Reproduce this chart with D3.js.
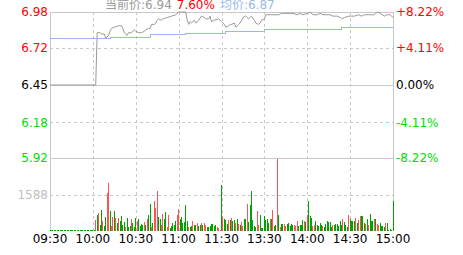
<!DOCTYPE html>
<html>
<head>
<meta charset="utf-8">
<script src="https://cdn.jsdelivr.net/npm/d3@7"></script>
<style>
  body { margin: 0; background: #fff; }
  text { font-family: "DejaVu Sans", "Noto Sans CJK SC", sans-serif; font-size: 12px; }
</style>
</head>
<body>
<svg id="chart" width="463" height="255"></svg>
<script>
// intraday chart data, minute index 0..240 (09:30 -> 15:00, lunch skipped)
const timeTicks = [0, 30, 60, 90, 120, 150, 180, 210, 240]
const timeLabels = ["09:30", "10:00", "10:30", "11:00", "11:30", "13:30", "14:00", "14:30", "15:00"]

const prevClose = 6.45
const priceTicks = [6.98, 6.72, 6.45, 6.18, 5.92]
const priceLabels = ["6.98", "6.72", "6.45", "6.18", "5.92"]
const pctLabels = ["+8.22%", "+4.11%", "0.00%", "-4.11%", "-8.22%"]
const volTick = 1588
const volMax = 3176

const headPrice = "6.94"
const headPct = "7.60%"
const headAvg = "6.87"

const priceMinutes = [0, 32, 33, 34, 35, 36, 38, 39, 41, 42, 43, 45, 48, 50, 51, 52, 54, 55, 57, 59,
  60, 62, 63, 64, 66, 67, 69, 70, 71, 73, 74, 75, 76, 78, 79, 82, 85, 88, 90, 95,
  96, 97, 98, 99, 101, 102, 104, 106, 108, 109, 111, 112, 113, 115, 118, 119, 120, 122, 123, 125,
  126, 127, 129, 130, 132, 133, 134, 136, 137, 139, 140, 141, 143, 144, 146, 147, 148, 150, 151, 154,
  157, 160, 162, 165, 168, 170, 173, 175, 177, 180, 182, 184, 187, 189, 191, 194, 196, 198, 201, 203,
  204, 206, 209, 211, 213, 216, 218, 220, 223, 225, 227, 229, 231, 234, 236, 238, 240]
const prices = [6.45, 6.45, 6.83, 6.83, 6.83, 6.82, 6.82, 6.79, 6.81, 6.84, 6.86, 6.87, 6.88, 6.88, 6.86, 6.83, 6.81, 6.83, 6.83, 6.85,
  6.84, 6.83, 6.83, 6.83, 6.84, 6.85, 6.86, 6.86, 6.89, 6.89, 6.90, 6.92, 6.93, 6.92, 6.93, 6.94, 6.95, 6.96, 6.98, 6.98,
  6.92, 6.89, 6.91, 6.90, 6.92, 6.90, 6.92, 6.95, 6.94, 6.93, 6.93, 6.95, 6.91, 6.92, 6.93, 6.92, 6.91, 6.89, 6.87, 6.88,
  6.89, 6.89, 6.90, 6.87, 6.89, 6.90, 6.92, 6.95, 6.95, 6.93, 6.94, 6.95, 6.92, 6.90, 6.89, 6.90, 6.92, 6.93, 6.96, 6.96,
  6.96, 6.96, 6.97, 6.97, 6.97, 6.97, 6.96, 6.97, 6.96, 6.97, 6.98, 6.96, 6.96, 6.97, 6.96, 6.96, 6.96, 6.95, 6.95, 6.94,
  6.93, 6.94, 6.95, 6.95, 6.95, 6.96, 6.95, 6.96, 6.96, 6.96, 6.96, 6.98, 6.97, 6.95, 6.96, 6.96, 6.94]

const avgMinutes = [0, 42, 70, 95, 123, 150, 169, 204, 240]
const avgPrices = [6.79, 6.80, 6.82, 6.83, 6.84, 6.855, 6.86, 6.87, 6.87]

const volumes = [
  0, 0, 0, 0, 0, 0, 0, 0, 0, 0,
  0, 0, 0, 0, 0, 0, 0, 0, 0, 0,
  0, 0, 0, 0, 0, 0, 0, 0, 0, 0,
  0, 0, 480, 695, 785, 260, 915, 435, 220, 610,
  1655, 2090, 870, 220, 610, 870, 565, 350, 565, 435,
  650, 260, 390, 175, 565, 175, 220, 520, 350, 175,
  565, 435, 520, 220, 305, 260, 390, 260, 520, 695,
  1175, 175, 350, 1305, 1000, 1740, 610, 520, 260, 740,
  520, 825, 175, 695, 130, 220, 350, 260, 435, 695,
  955, 520, 610, 350, 390, 1130, 435, 175, 175, 220,
  435, 260, 260, 350, 220, 260, 350, 260, 350, 260,
  175, 175, 220, 305, 305, 220, 260, 175, 130, 45,
  2000, 610, 520, 480, 305, 480, 480, 565, 435, 480,
  350, 520, 305, 260, 390, 220, 520, 520, 1175, 390,
  1130, 1740, 480, 220, 175, 870, 260, 695, 130, 130,
  650, 480, 520, 350, 520, 520, 915, 220, 260, 3150,
  695, 175, 305, 305, 305, 220, 305, 350, 220, 305,
  260, 260, 220, 435, 220, 260, 260, 480, 435, 390,
  695, 1305, 650, 565, 220, 260, 435, 260, 220, 350,
  260, 220, 175, 305, 435, 390, 390, 175, 260, 260,
  305, 305, 220, 435, 260, 520, 390, 260, 175, 695,
  520, 435, 435, 435, 565, 350, 480, 650, 650, 650,
  350, 305, 520, 260, 740, 435, 435, 520, 520, 305,
  260, 350, 220, 220, 175, 350, 350, 45, 85, 0, 1305]
// r = up minute, g = down minute
const volDirs =
  "gggggggggg" + "gggggggggg" + "gggggggggg" + "ggrgrggrgg" +
  "rrgrrgrgrg" + "gggrgggrgg" + "grggggrgrg" + "grgrrrggrr" +
  "ggrrgggggr" + "rggggggrgg" + "rggrggrgrr" + "gggggggrrr" +
  "grgggrgrgg" + "rgrgrrggrg" + "gggggrrggg" + "ggggrgrggr" +
  "grggrrgggg" + "grrrggggrg" + "rgggrrgggg" + "grggggggrg" +
  "gggggrgggr" + "ggggrgrrgg" + "grgrgggrgr" + "rggggrggggg"

const left = 50, right = 393
const priceTop = 12, priceBottom = 158
const volBottom = 231

const svg = d3.select("#chart")
svg.append("rect").attr("width", 463).attr("height", 255).attr("fill", "#fff")

const x = d3.scaleLinear().domain([0, 240]).range([left, right])
const y = d3.scaleLinear().domain([5.92, 6.98]).range([priceBottom, priceTop])
const vy = d3.scaleLinear().domain([0, volMax]).range([volBottom, priceBottom])

const gridColor = "#c8c8c8"
const grid = svg.append("g").attr("shape-rendering", "crispEdges")

// horizontal grid
priceTicks.forEach((p, i) => {
  grid.append("line")
    .attr("x1", left).attr("x2", right)
    .attr("y1", Math.round(y(p)) + 0.5).attr("y2", Math.round(y(p)) + 0.5)
    .attr("stroke", gridColor)
    .attr("stroke-dasharray", i % 2 === 1 ? "3,3" : null)
})
grid.append("line")
  .attr("x1", left).attr("x2", right)
  .attr("y1", Math.round(vy(volTick)) + 0.5).attr("y2", Math.round(vy(volTick)) + 0.5)
  .attr("stroke", gridColor).attr("stroke-dasharray", "3,3")

// vertical grid
timeTicks.forEach((t, i) => {
  const edge = i === 0 || i === timeTicks.length - 1
  grid.append("line")
    .attr("x1", Math.round(x(t)) + 0.5).attr("x2", Math.round(x(t)) + 0.5)
    .attr("y1", priceTop).attr("y2", volBottom)
    .attr("stroke", gridColor)
    .attr("stroke-dasharray", edge ? null : "3,3")
})

// volume bars
svg.append("g").attr("shape-rendering", "crispEdges")
  .selectAll("rect")
  .data(volumes)
  .join("rect")
  .attr("x", (d, i) => Math.floor(x(i)))
  .attr("width", 1)
  .attr("y", d => Math.min(vy(d), volBottom - 1))
  .attr("height", d => Math.max(volBottom - vy(d), 1))
  .attr("fill", (d, i) => volDirs[i] === "r" ? "#ff5252" : "#00a400")

// previous close flat part is drawn darker by the price line itself
const priceLine = d3.line()
  .x((d, i) => x(priceMinutes[i]))
  .y(d => y(d))
svg.append("path")
  .datum(prices)
  .attr("d", priceLine)
  .attr("fill", "none")
  .attr("stroke", "#999")
  .attr("stroke-width", 1)

const avgLine = d3.line()
  .x((d, i) => x(avgMinutes[i]))
  .y(d => Math.round(y(d)) + 0.5)
  .curve(d3.curveStepAfter)
svg.append("path")
  .datum(avgPrices)
  .attr("d", avgLine)
  .attr("fill", "none")
  .attr("stroke", "#99b8ee")
  .attr("stroke-width", 1)
  .attr("shape-rendering", "crispEdges")

// axis labels
const labelColor = i => i < 2 ? "#ff0000" : (i === 2 ? "#000" : "#00e000")
svg.append("g").selectAll("text")
  .data(priceLabels)
  .join("text")
  .attr("x", left - 2)
  .attr("y", (d, i) => y(priceTicks[i]))
  .attr("dy", "0.36em")
  .attr("text-anchor", "end")
  .attr("fill", (d, i) => labelColor(i))
  .text(d => d)

svg.append("g").selectAll("text")
  .data(pctLabels)
  .join("text")
  .attr("x", right + 3)
  .attr("y", (d, i) => y(priceTicks[i]))
  .attr("dy", "0.36em")
  .attr("fill", (d, i) => labelColor(i))
  .text(d => d)

svg.append("text")
  .attr("x", left - 2)
  .attr("y", vy(volTick))
  .attr("dy", "0.36em")
  .attr("text-anchor", "end")
  .attr("fill", "#c0c0c0")
  .text(volTick)

svg.append("g").selectAll("text")
  .data(timeLabels)
  .join("text")
  .attr("x", (d, i) => x(timeTicks[i]))
  .attr("y", 243)
  .attr("text-anchor", "middle")
  .attr("fill", "#000")
  .text(d => d)

// header
const head = svg.append("text").attr("x", 105).attr("y", 8.5)
head.append("tspan").attr("fill", "#999").text("当前价:" + headPrice)
head.append("tspan").attr("fill", "#ff0000").attr("dx", 5).text(headPct)
head.append("tspan").attr("fill", "#99b8ee").attr("dx", 5).text("均价:" + headAvg)
</script>
</body>
</html>
